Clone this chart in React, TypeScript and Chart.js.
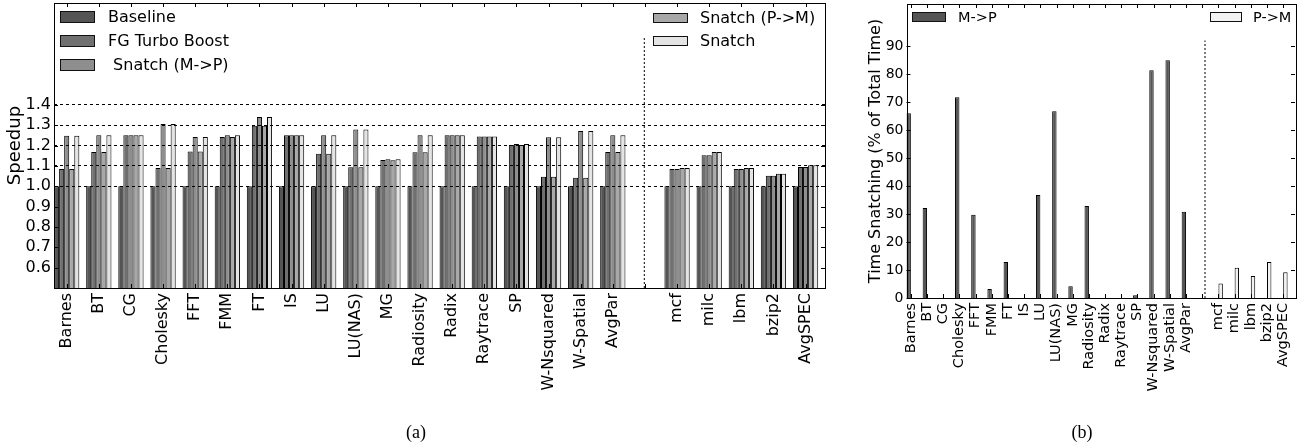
import React, { useEffect, useRef } from "react";
import { Chart, registerables } from "chart.js";
Chart.register(...registerables);

const categories = ["Barnes", "BT", "CG", "Cholesky", "FFT", "FMM", "FT", "IS", "LU", "LU(NAS)", "MG", "Radiosity", "Radix", "Raytrace", "SP", "W-Nsquared", "W-Spatial", "AvgPar", "", "mcf", "milc", "lbm", "bzip2", "AvgSPEC"];

const baseline = [1, 1, 1, 1, 1, 1, 1, 1, 1, 1, 1, 1, 1, 1, 1, 1, 1, 1, null, 1, 1, 1, 1, 1];
const fgTurbo = [1.085, 1.168, 1.25, 1.09, 1.17, 1.242, 1.297, 1.25, 1.159, 1.093, 1.129, 1.167, 1.25, 1.244, 1.203, 1.046, 1.041, 1.168, null, 1.085, 1.152, 1.085, 1.052, 1.095];
const snatchMP = [1.248, 1.25, 1.25, 1.306, 1.242, 1.25, 1.34, 1.25, 1.25, 1.278, 1.132, 1.25, 1.25, 1.244, 1.207, 1.24, 1.271, 1.25, null, 1.085, 1.152, 1.085, 1.052, 1.095];
const snatchPM = [1.085, 1.168, 1.25, 1.09, 1.17, 1.242, 1.297, 1.25, 1.159, 1.093, 1.128, 1.167, 1.25, 1.244, 1.203, 1.046, 1.041, 1.168, null, 1.09, 1.168, 1.09, 1.061, 1.103];
const snatchAll = [1.248, 1.25, 1.25, 1.306, 1.242, 1.25, 1.34, 1.25, 1.25, 1.278, 1.132, 1.25, 1.25, 1.244, 1.207, 1.24, 1.271, 1.25, null, 1.09, 1.168, 1.09, 1.061, 1.103];
const speedupTicks = [0.6, 0.7, 0.8, 0.9, 1.0, 1.1, 1.2, 1.3, 1.4];

const timeMP = [66, 32.1, 0, 71.7, 29.7, 3.2, 12.9, 0, 36.8, 66.7, 4.2, 32.9, 0, 0, 1.0, 81.3, 84.9, 30.8, null, null, null, null, null, null];
const timePM = [null, null, null, null, null, null, null, null, null, null, null, null, null, null, null, null, null, null, null, 5.2, 10.8, 7.9, 12.9, 9.2];
const timeTicks = [0, 10, 20, 30, 40, 50, 60, 70, 80, 90];

const FONT = "'DejaVu Sans', 'Liberation Sans', sans-serif";

function toPoints(arr: (number | null)[]) {
  const out: { x: number; y: number }[] = [];
  arr.forEach((v, i) => {
    if (v !== null) out.push({ x: i, y: v });
  });
  return out;
}

const frameTicks = {
  id: "frameTicks",
  afterDraw(chart: any) {
    const { ctx, chartArea: a, scales } = chart;
    const x = scales.x;
    const y = scales.y;
    ctx.save();
    ctx.strokeStyle = "#000";
    ctx.lineWidth = 1;
    ctx.strokeRect(Math.round(a.left) + 0.5, Math.round(a.top) + 0.5, Math.round(a.right - a.left), Math.round(a.bottom - a.top));
    ctx.beginPath();
    x.ticks.forEach((t: any) => {
      const px = Math.round(x.getPixelForValue(t.value)) + 0.5;
      ctx.moveTo(px, a.top);
      ctx.lineTo(px, a.top + 4);
      ctx.moveTo(px, a.bottom);
      ctx.lineTo(px, a.bottom - 4);
    });
    y.ticks.forEach((t: any) => {
      const py = Math.round(y.getPixelForValue(t.value)) + 0.5;
      ctx.moveTo(a.left, py);
      ctx.lineTo(a.left + 4, py);
      ctx.moveTo(a.right, py);
      ctx.lineTo(a.right - 4, py);
    });
    ctx.stroke();
    ctx.restore();
  },
};

function fixX(height: number) {
  return (s: any) => {
    s.height = height;
    s.paddingLeft = 0;
    s.paddingRight = 0;
  };
}
function fixY(width: number) {
  return (s: any) => {
    s.width = width;
    s.paddingTop = 0;
    s.paddingBottom = 0;
  };
}

function SpeedupChart() {
  const ref = useRef<HTMLCanvasElement>(null);
  useEffect(() => {
    const gapX = 17.98;
    const chart = new Chart(ref.current!, {
      type: "bar",
      data: {
        datasets: [
          { label: "Baseline", data: toPoints(baseline), backgroundColor: "#555555" },
          { label: "FG Turbo Boost", data: toPoints(fgTurbo), backgroundColor: "#707070" },
          { label: "Snatch (M->P)", data: toPoints(snatchMP), backgroundColor: "#8e8e8e" },
          { label: "Snatch (P->M)", data: toPoints(snatchPM), backgroundColor: "#a8a8a8" },
          { label: "Snatch", data: toPoints(snatchAll), backgroundColor: "#e4e4e4" },
          {
            type: "line",
            label: "sep",
            data: [{ x: gapX, y: 0.5 }, { x: gapX, y: 1.73 }],
            borderColor: "#000",
            borderWidth: 1,
            borderDash: [2, 2],
            pointRadius: 0,
            fill: false,
          } as any,
        ],
      },
      options: {
        responsive: false,
        animation: false,
        events: [],
        layout: { padding: { left: 0, top: 3, right: 5, bottom: 0 } },
        datasets: {
          bar: {
            borderColor: "#000",
            borderWidth: 1,
            categoryPercentage: 0.787,
            barPercentage: 1,
          },
        },
        plugins: { legend: { display: false }, tooltip: { enabled: false } },
        scales: {
          x: {
            type: "linear",
            offset: false,
            min: -0.395,
            max: 23.605,
            afterBuildTicks: (s: any) => {
              s.ticks = categories.map((_, i) => ({ value: i }));
            },
            afterFit: fixX(157),
            grid: { display: false, drawTicks: false },
            border: { display: false },
            ticks: {
              autoSkip: false,
              minRotation: 90,
              maxRotation: 90,
              padding: 5,
              color: "#000",
              font: { family: FONT, size: 16 },
              callback: (v: any) => categories[Math.round(v)] ?? "",
            },
          },
          y: {
            min: 0.5,
            max: 1.9,
            afterBuildTicks: (s: any) => {
              s.ticks = speedupTicks.map((v) => ({ value: v }));
            },
            afterFit: fixY(54),
            grid: {
              drawTicks: false,
              z: 1,
              color: (c: any) => (c.tick && c.tick.value >= 0.99 ? "#000" : "rgba(0,0,0,0)"),
            },
            border: { display: false, dash: [3, 3] },
            ticks: {
              padding: 3,
              color: "#000",
              font: { family: FONT, size: 16 },
              callback: (v: any) => Number(v).toFixed(1),
            },
            title: {
              display: true,
              text: "Speedup",
              color: "#000",
              font: { family: FONT, size: 18 },
              padding: { top: 5, bottom: 0 },
            },
          },
        },
      },
      plugins: [frameTicks],
    } as any);
    return () => chart.destroy();
  }, []);
  return <canvas ref={ref} width={830} height={445} style={{ position: "absolute", left: 0, top: 0 }} />;
}

function TimeChart() {
  const ref = useRef<HTMLCanvasElement>(null);
  useEffect(() => {
    const gapX = 18.17;
    const chart = new Chart(ref.current!, {
      type: "bar",
      data: {
        datasets: [
          { label: "M->P", data: toPoints(timeMP), backgroundColor: "#555555" },
          { label: "P->M", data: toPoints(timePM), backgroundColor: "#f2f2f2" },
          {
            type: "line",
            label: "sep",
            data: [{ x: gapX, y: 0 }, { x: gapX, y: 92 }],
            borderColor: "#000",
            borderWidth: 1,
            borderDash: [2, 2],
            pointRadius: 0,
            fill: false,
          } as any,
        ],
      },
      options: {
        responsive: false,
        animation: false,
        events: [],
        layout: { padding: { left: 0, top: 4, right: 6, bottom: 0 } },
        datasets: {
          bar: {
            borderColor: "#000",
            borderWidth: 1,
            categoryPercentage: 0.545,
            barPercentage: 1,
          },
        },
        plugins: { legend: { display: false }, tooltip: { enabled: false } },
        scales: {
          x: {
            type: "linear",
            offset: false,
            min: -0.27,
            max: 23.73,
            afterBuildTicks: (s: any) => {
              s.ticks = categories.map((_, i) => ({ value: i }));
            },
            afterFit: fixX(147),
            grid: { display: false, drawTicks: false },
            border: { display: false },
            ticks: {
              autoSkip: false,
              minRotation: 90,
              maxRotation: 90,
              padding: 5,
              color: "#000",
              font: { family: FONT, size: 14.5 },
              callback: (v: any) => categories[Math.round(v)] ?? "",
            },
          },
          y: {
            min: 0,
            max: 105,
            afterBuildTicks: (s: any) => {
              s.ticks = timeTicks.map((v) => ({ value: v }));
            },
            afterFit: fixY(46.5),
            grid: { display: false, drawTicks: false },
            border: { display: false },
            ticks: {
              padding: 3,
              color: "#000",
              font: { family: FONT, size: 14 },
            },
            title: {
              display: true,
              text: "Time Snatching (% of Total Time)",
              color: "#000",
              font: { family: FONT, size: 16 },
              padding: { top: 6, bottom: 0 },
            },
          },
        },
      },
      plugins: [frameTicks],
    } as any);
    return () => chart.destroy();
  }, []);
  return <canvas ref={ref} width={441} height={445} style={{ position: "absolute", left: 860, top: 0 }} />;
}

type LegendItem = { label: string; color: string; box: [number, number, number, number]; tx: number; cy: number; size: number };

const legendItems: LegendItem[] = [
  { label: "Baseline", color: "#555555", box: [60, 11, 35, 12], tx: 108, cy: 17, size: 16 },
  { label: "FG Turbo Boost", color: "#707070", box: [60, 35, 35, 12], tx: 108, cy: 41, size: 16 },
  { label: "\u00a0Snatch (M->P)", color: "#8e8e8e", box: [60, 59, 35, 12], tx: 108, cy: 65, size: 16 },
  { label: "Snatch (P->M)", color: "#a8a8a8", box: [653, 13, 35, 10], tx: 700, cy: 18, size: 16 },
  { label: "Snatch", color: "#e4e4e4", box: [653, 36, 35, 10], tx: 700, cy: 41, size: 16 },
  { label: "M->P", color: "#555555", box: [912, 12, 34, 10], tx: 958, cy: 17, size: 14.5 },
  { label: "P->M", color: "#f2f2f2", box: [1210, 12, 32, 10], tx: 1253, cy: 17, size: 14.5 },
];

export default function App() {
  return (
    <div style={{ position: "absolute", left: 0, top: 0, width: 1301, height: 445, background: "#fff", overflow: "hidden" }}>
      <SpeedupChart />
      <TimeChart />
      {legendItems.map((it) => (
        <React.Fragment key={it.label}>
          <div
            style={{
              position: "absolute",
              left: it.box[0],
              top: it.box[1],
              width: it.box[2],
              height: it.box[3],
              boxSizing: "border-box",
              background: it.color,
              border: "1px solid #111",
            }}
          />
          <div
            style={{
              position: "absolute",
              left: it.tx,
              top: it.cy - 10,
              height: 20,
              lineHeight: "20px",
              fontFamily: FONT,
              fontSize: it.size,
              color: "#000",
              whiteSpace: "pre",
            }}
          >
            {it.label}
          </div>
        </React.Fragment>
      ))}
      <div style={{ position: "absolute", left: 396, top: 421, width: 40, textAlign: "center", fontFamily: "'Liberation Serif', serif", fontSize: 18, lineHeight: "22px" }}>(a)</div>
      <div style={{ position: "absolute", left: 1062, top: 421, width: 40, textAlign: "center", fontFamily: "'Liberation Serif', serif", fontSize: 18, lineHeight: "22px" }}>(b)</div>
    </div>
  );
}
